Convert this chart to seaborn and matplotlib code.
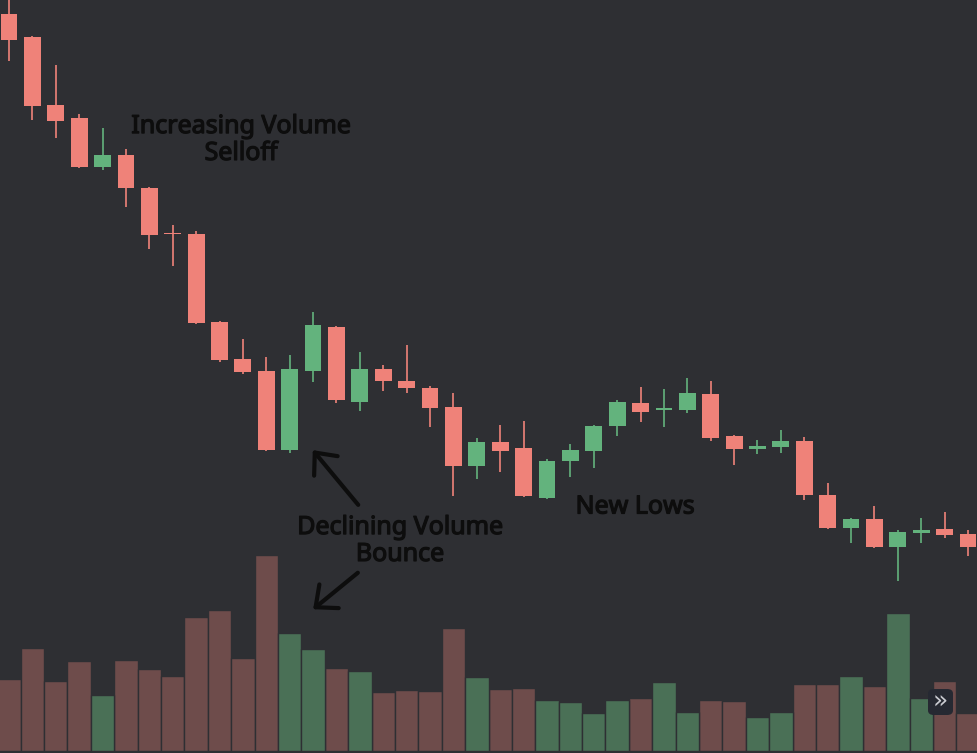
import numpy as np
import pandas as pd
import matplotlib
matplotlib.use("Agg")
import matplotlib.pyplot as plt
import matplotlib.patheffects as pe
import seaborn as sns
from matplotlib.patches import FancyBboxPatch

# OHLC (price units), 42 sessions
opens = [59.30, 58.15, 54.75, 54.10, 51.65, 52.25, 50.60, 48.35, 48.30, 43.90,
         42.05, 41.45, 37.50, 41.45, 43.65, 39.90, 41.55, 40.95, 40.60, 39.65,
         36.70, 37.90, 37.60, 35.10, 36.95, 37.45, 38.70, 39.85, 39.52, 39.50,
         40.30, 38.20, 37.55, 37.65, 37.95, 35.25, 33.60, 34.05, 32.65, 33.35,
         33.55, 33.30]
highs = [60.50, 58.20, 56.75, 54.30, 53.60, 52.55, 50.65, 48.75, 48.45, 43.95,
         43.05, 42.15, 42.25, 44.40, 43.70, 42.40, 41.75, 42.75, 40.70, 40.35,
         38.10, 38.75, 38.95, 37.05, 37.80, 38.75, 40.00, 40.65, 40.55, 41.10,
         40.95, 38.25, 38.00, 38.50, 38.15, 35.85, 34.10, 34.70, 33.50, 34.10,
         34.40, 33.50]
lows = [56.95, 54.00, 53.10, 51.60, 51.50, 49.65, 47.55, 46.70, 43.80, 41.90,
        41.30, 37.45, 37.35, 40.90, 39.85, 39.45, 40.45, 40.35, 38.65, 35.20,
        36.05, 36.40, 35.15, 35.05, 36.15, 36.60, 38.20, 38.90, 38.65, 39.35,
        37.95, 36.75, 37.30, 37.35, 35.00, 33.55, 32.85, 32.60, 30.95, 32.85,
        33.10, 32.20]
closes = [58.00, 54.70, 53.95, 51.65, 52.25, 50.60, 48.25, 48.30, 43.85, 42.00,
          41.40, 37.50, 41.55, 43.75, 40.00, 41.55, 40.95, 40.60, 39.60, 36.70,
          37.90, 37.45, 35.20, 36.95, 37.50, 38.70, 39.90, 39.40, 39.55, 40.35,
          38.10, 37.55, 37.70, 37.95, 35.25, 33.60, 34.05, 32.65, 33.40, 33.50,
          33.25, 32.65]
# volume in thousands
volume = [720, 1030, 700, 900, 560, 910, 820, 750, 1340, 1410,
          930, 1960, 1180, 1020, 830, 800, 590, 610, 600, 1230,
          740, 620, 630, 510, 490, 380, 510, 530, 690, 390,
          510, 500, 340, 390, 670, 670, 750, 650, 1380, 530,
          700, 380]

bg = "#2e2f33"
up_col, down_col = "#63b37d", "#ef8279"
vol_up, vol_down = "#4a7056", "#6e4c4b"

df = pd.DataFrame({"open": opens, "high": highs, "low": lows,
                   "close": closes, "volume": volume})
df["idx"] = np.arange(len(df))
df["dir"] = np.where(df["close"] >= df["open"], "up", "down")

sns.set_style("dark")
plt.rcParams["font.family"] = ["Noto Sans", "DejaVu Sans"]

fig = plt.figure(figsize=(9.77, 7.53), dpi=100, facecolor=bg)
ax_vol = fig.add_axes([0, 0, 1, 1])
ax = fig.add_axes([0, 0, 1, 1])

xlim = (-0.385, 41.385)

# volume bars
sns.barplot(data=df, x="idx", y="volume", hue="dir",
            palette={"up": vol_up, "down": vol_down}, dodge=False,
            width=1.0, edgecolor=bg, linewidth=1, legend=False,
            saturation=1, ax=ax_vol)
ax_vol.set_facecolor(bg)
ax_vol.set_xlim(xlim)
ax_vol.set_ylim(-20, 7510)

# candles
colors = [up_col if d == "up" else down_col for d in df["dir"]]
ax.vlines(df["idx"], df["low"], df["high"], colors=colors, linewidth=1.2)
body_bottom = np.minimum(df["open"], df["close"])
body_h = np.maximum(np.abs(df["close"] - df["open"]), 0.06)
ax.bar(df["idx"], body_h, bottom=body_bottom, width=0.72, color=colors,
       linewidth=0)
ax.set_facecolor("none")
ax.set_xlim(xlim)
ax.set_ylim(22.35, 60)

for a in (ax, ax_vol):
    a.set_xticks([])
    a.set_yticks([])
    a.set_xlabel("")
    a.set_ylabel("")
    a.grid(False)
    for s in a.spines.values():
        s.set_visible(False)

W, H = 977, 753
def fx(px):
    return px / W
def fy(py):
    return 1 - py / H

ink = "#0d0d0d"
# thicken the strokes a little, the original lettering is heavier
heavy = [pe.withStroke(linewidth=0.9, foreground=ink)]
txt = dict(color=ink, fontsize=18, ha="center", va="center",
           linespacing=1.1, transform=fig.transFigure, path_effects=heavy)
fig.text(fx(241), fy(140), "Increasing Volume\nSelloff", **txt)
fig.text(fx(400), fy(541), "Declining Volume\nBounce", **txt)
fig.text(fx(635), fy(507), "New Lows", **txt)

arrow = dict(arrowstyle="->,head_length=1.25,head_width=1.1",
             color=ink, lw=3)
ax.annotate("", xy=(fx(311), fy(448)), xytext=(fx(360), fy(507)),
            xycoords="figure fraction", textcoords="figure fraction",
            arrowprops=arrow)
ax.annotate("", xy=(fx(311), fy(611)), xytext=(fx(360), fy(571)),
            xycoords="figure fraction", textcoords="figure fraction",
            arrowprops=arrow)

# scroll button
btn = FancyBboxPatch((fx(928), fy(715)), fx(25), 26 / H,
                     boxstyle="round,pad=0,rounding_size=0.006",
                     transform=fig.transFigure, facecolor="#262932",
                     edgecolor="none", zorder=5)
fig.patches.append(btn)
fig.text(fx(940.5), fy(702), "\u00bb", color="#c9cbd1", fontsize=18,
         ha="center", va="center", family="DejaVu Sans", zorder=6)

fig.savefig("out.png", dpi=100, facecolor=bg)
